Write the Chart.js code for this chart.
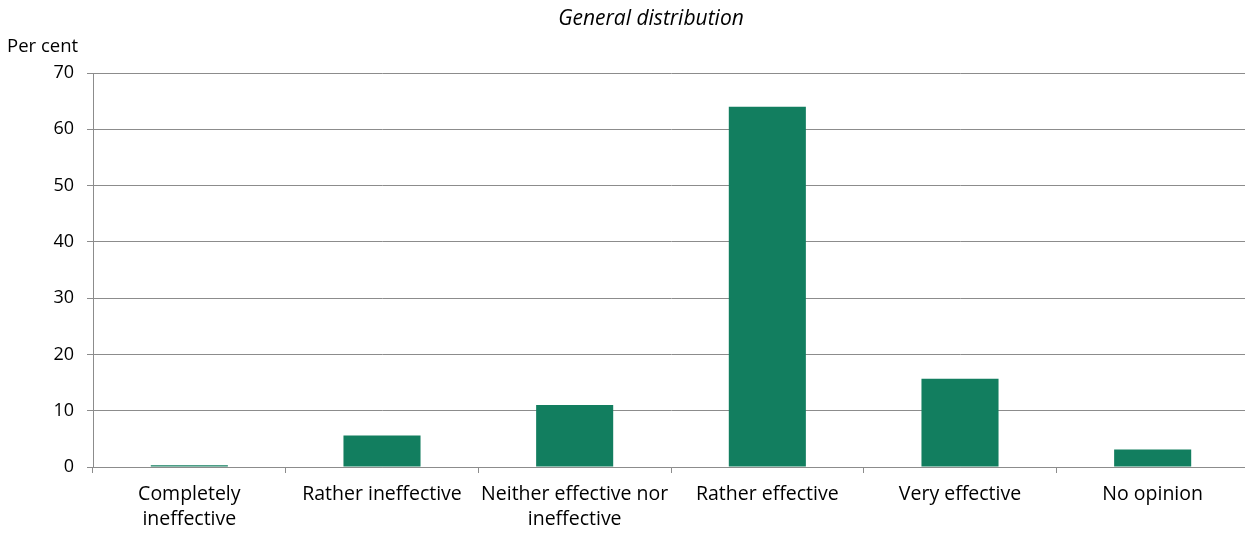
<!DOCTYPE html>
<html>
<head>
<meta charset="utf-8">
<script src="https://cdn.jsdelivr.net/npm/chart.js@4/dist/chart.umd.min.js"></script>
<style>
  html, body { margin: 0; padding: 0; background: #fff; overflow: hidden; }
  #wrap { width: 1249px; height: 534px; }
</style>
</head>
<body>
<div id="wrap"><canvas id="c" width="1249" height="534"></canvas></div>
<script>
const categories = [
  ["Completely", "ineffective"],
  "Rather ineffective",
  ["Neither effective nor", "ineffective"],
  "Rather effective",
  "Very effective",
  "No opinion"
];
const shares = [0.3, 5.6, 11.0, 64.0, 15.7, 3.1];
const yTicks = [0, 10, 20, 30, 40, 50, 60, 70];

const FONT = "'Open Sans', Lato, sans-serif";
const GREEN = "#127e5f";
const GRID = "#8c8c8c";

const textPlugin = {
  id: "headerTexts",
  afterDraw(chart) {
    const ctx = chart.ctx;
    ctx.save();
    ctx.fillStyle = "#000";
    ctx.textBaseline = "middle";
    ctx.font = "italic 21px " + FONT;
    ctx.textAlign = "center";
    ctx.fillText("General distribution", 651, 19);
    ctx.font = "18.5px " + FONT;
    ctx.textAlign = "left";
    ctx.fillText("Per cent", 7, 47);
    ctx.restore();
  }
};

new Chart(document.getElementById("c"), {
  type: "bar",
  data: {
    labels: categories,
    datasets: [{
      data: shares,
      backgroundColor: GREEN,
      borderWidth: 0,
      barPercentage: 0.4,
      categoryPercentage: 1.0
    }]
  },
  options: {
    responsive: false,
    animation: false,
    devicePixelRatio: 1,
    layout: { padding: { top: 73, right: 0, left: 0, bottom: 0 } },
    plugins: { legend: { display: false }, tooltip: { enabled: false }, title: { display: false } },
    scales: {
      y: {
        min: 0, max: 70,
        afterFit(s) { s.width = 93; },
        afterBuildTicks(s) { s.ticks = yTicks.map(v => ({ value: v })); },
        ticks: { color: "#000", font: { family: FONT, size: 18 }, padding: 13 },
        grid: { color: GRID, lineWidth: 1, tickLength: 6, drawTicks: true },
        border: { display: true, color: GRID, width: 1 }
      },
      x: {
        offset: true,
        afterFit(s) { s.height = 67; },
        ticks: { color: "#000", font: { family: FONT, size: 19.5, lineHeight: 1.28 }, padding: 9, maxRotation: 0, autoSkip: false },
        grid: { offset: true, drawOnChartArea: false, color: GRID, tickLength: 6, drawTicks: true },
        border: { display: true, color: GRID, width: 1 }
      }
    }
  },
  plugins: [textPlugin]
});
</script>
</body>
</html>
